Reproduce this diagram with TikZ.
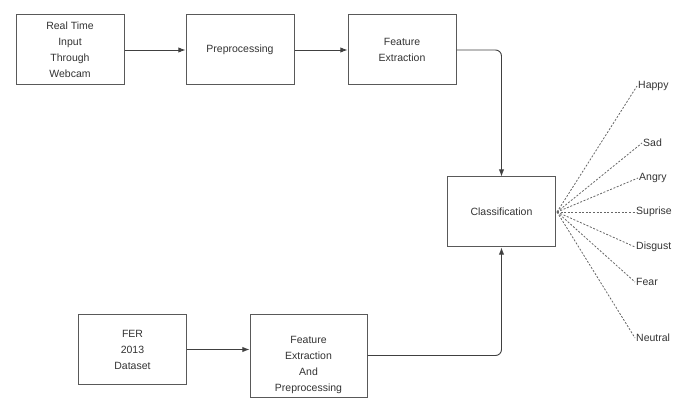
\documentclass[tikz,border=0pt]{standalone}
\usepackage{fontspec}
\setmainfont{Liberation Sans}
\usetikzlibrary{arrows.meta,positioning,calc}

\begin{document}
\begin{tikzpicture}[x=1pt,y=-1pt,>=Latex,font=\fontsize{10.5}{16}\selectfont,
  blk/.style={draw=black!65,line width=1pt,fill=white,align=center,text=black!80,minimum width=108pt,minimum height=70pt,inner sep=2pt},
  flow/.style={->,draw=black!75,line width=0.9pt,rounded corners=6pt},
  emo/.style={anchor=west,text=black!80,inner sep=1pt},
  fan/.style={draw=black!60,line width=0.8pt,dash pattern=on 2pt off 1.6pt}]
\useasboundingbox (0,0) rectangle (683,398);
% top row
\node[blk] (RT) at (70,50) {Real Time\\Input\\Through\\Webcam};
\node[blk] (PP) at (240,50) {Preprocessing};
\node[blk] (FE) at (402,50) {Feature\\Extraction};
\node[blk] (CL) at (501.5,212) {Classification};
% bottom row
\node[blk] (FER) at (132.5,349.5) {FER\\2013\\Dataset};
\node[blk,minimum width=117pt,minimum height=83pt] (FEP) at (308.5,355.5) {};
\node[align=center,text=black!80] (FEPtext) at ([yshift=-9pt]FEP.center) {Feature\\Extraction\\And\\Preprocessing};
\draw[flow] (RT) -- (PP);
\draw[flow] (PP) -- (FE);
\draw[flow] (FE.east) -| (CL.north);
\draw[flow] (FER.east) -- (FER.east -| FEP.west);
\draw[flow] (FEP.east) -| (CL.south);
% emotions
\coordinate (hub) at ([xshift=1pt]CL.east);
\node[emo] (happy) at (637,86) {Happy};
\node[emo] (sad) at (642,143) {Sad};
\node[emo] (angry) at (638,178) {Angry};
\node[emo] (suprise) at (635,212) {Suprise};
\node[emo] (disgust) at (635,247) {Disgust};
\node[emo] (fear) at (635,282) {Fear};
\node[emo] (neutral) at (635,338) {Neutral};
\foreach \e in {happy,sad,angry,suprise,disgust,fear,neutral}
  \draw[fan] (hub) -- (\e.west);
\end{tikzpicture}
\end{document}
